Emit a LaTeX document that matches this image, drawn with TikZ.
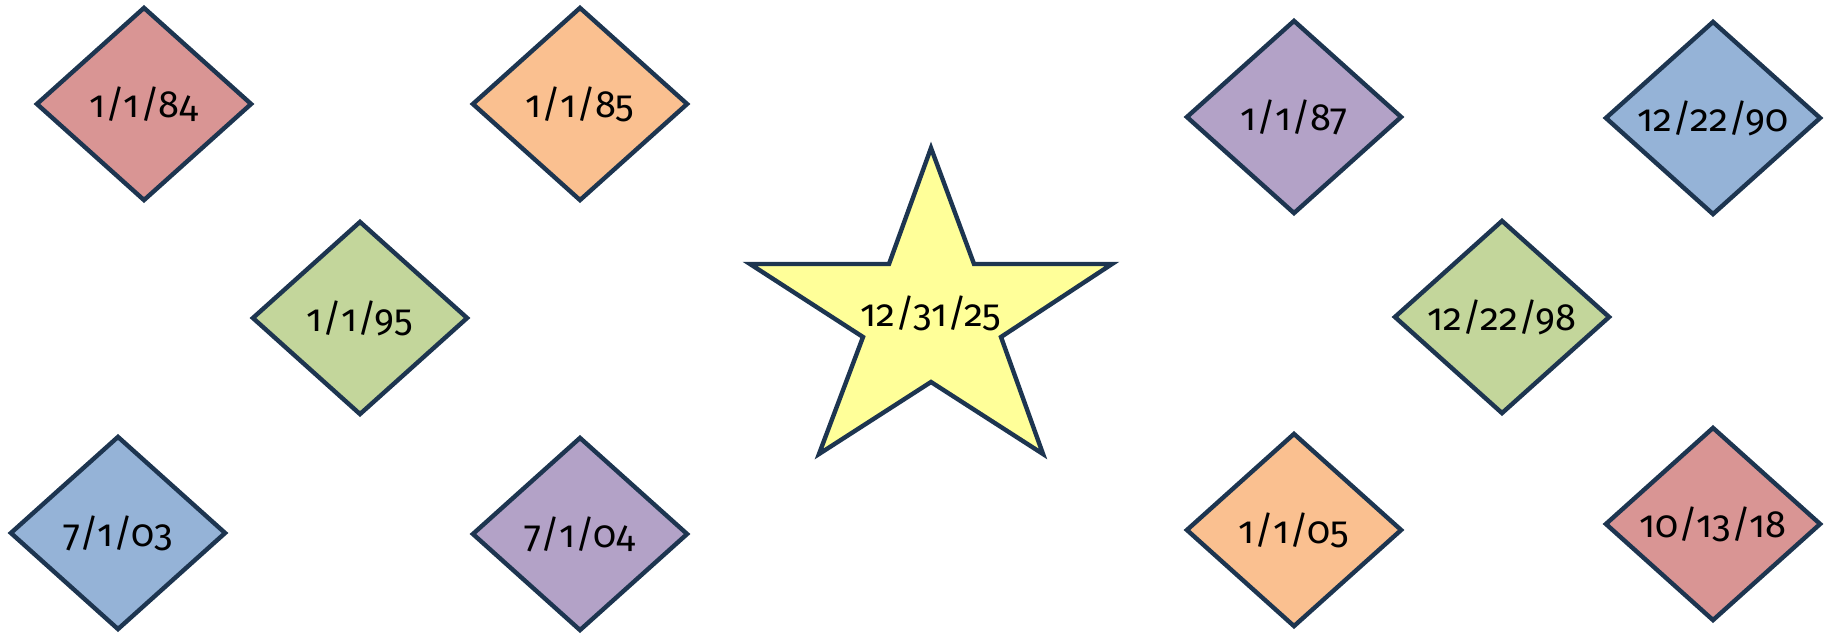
\documentclass[tikz,border=0pt]{standalone}
\usepackage{fontspec}
\setmainfont[Numbers=OldStyle]{Fira Sans}
\usetikzlibrary{shapes.geometric}
\definecolor{edge}{HTML}{1D3550}
\definecolor{cred}{HTML}{D99594}
\definecolor{corange}{HTML}{FAC090}
\definecolor{cgreen}{HTML}{C3D69B}
\definecolor{cblue}{HTML}{95B3D7}
\definecolor{cpurple}{HTML}{B3A2C7}
\definecolor{cyellow}{HTML}{FFFF99}
\tikzset{
  dia/.style={diamond, draw=edge, line width=2.2pt, inner sep=0pt,
    minimum width=108pt, minimum height=97pt, font=\fontsize{19}{22}\selectfont},
  startext/.style={inner sep=0pt, font=\fontsize{19}{22}\selectfont}
}
\begin{document}
\begin{tikzpicture}[x=0.5pt,y=-0.5pt]
\useasboundingbox (0,0) rectangle (1834,636);
\node[dia, fill=cred]    (d84) at (144,104) {1/1/84};
\node[dia, fill=corange] (d85) at (580,104) {1/1/85};
\node[dia, fill=cgreen]  (d95) at (360,318) {1/1/95};
\node[dia, fill=cblue]   (d03) at (118,533) {7/1/03};
\node[dia, fill=cpurple] (d04) at (580,534) {7/1/04};
\node[dia, fill=cpurple] (d87) at (1294,117) {1/1/87};
\node[dia, fill=cblue]   (d90) at (1713,118) {12/22/90};
\node[dia, fill=cgreen]  (d98) at (1502,317) {12/22/98};
\node[dia, fill=corange] (d05) at (1294,530) {1/1/05};
\node[dia, fill=cred]    (d18) at (1713,524) {10/13/18};
\draw[draw=edge, line width=2.2pt, fill=cyellow, line join=miter]
  (931,148) -- (974,264) -- (1112,264) -- (1001,337) -- (1043,454)
  -- (931,382) -- (819,454) -- (863,337) -- (750,264) -- (889,264) -- cycle;
\node[startext] (star) at (931,313) {12/31/25};
\end{tikzpicture}
\end{document}
